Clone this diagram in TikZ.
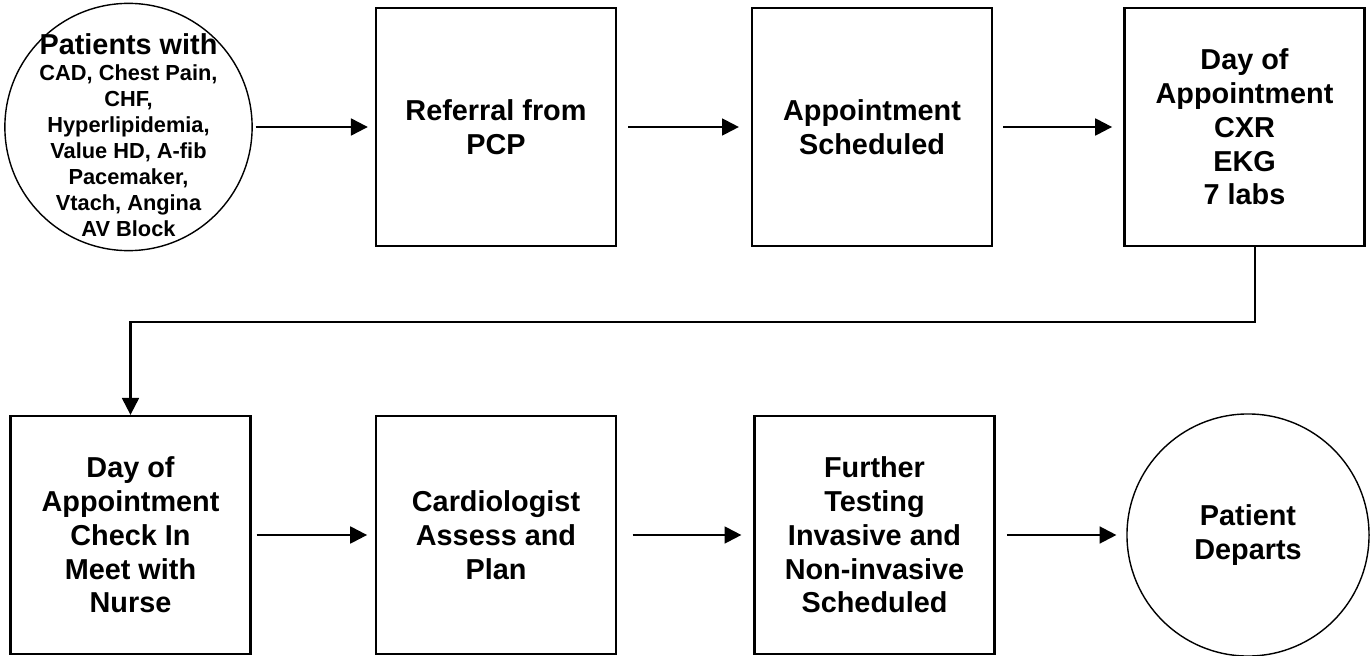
\documentclass[tikz,border=0pt]{standalone}
\usepackage{fontspec}
\setmainfont{Liberation Sans}
\usetikzlibrary{arrows.meta}

\tikzstyle{stage}=[draw,line width=1.6pt,rectangle,minimum width=6cm,minimum height=5.95cm,align=center,inner sep=2pt,font=\bfseries\fontsize{20.5}{24}\selectfont]
\tikzstyle{terminal}=[draw,line width=1pt,circle,inner sep=0pt,align=center,font=\bfseries\fontsize{20.5}{24}\selectfont]
\tikzstyle{small}=[align=center,inner sep=0pt,font=\bfseries\fontsize{15.5}{18.5}\selectfont]
\tikzstyle{flow}=[draw,line width=1.6pt,-{Triangle[length=12pt,width=12pt]}]

\begin{document}
\begin{tikzpicture}[x=0.025cm,y=-0.025cm]
      \useasboundingbox (0,0) rectangle (1372,656);
      %nodes
      \node[terminal, minimum size=6.18cm] (pats) at (128.5,127) {};
      \node[small] (patstext) at (128.5,135) {{\fontsize{20.5}{24}\selectfont Patients with}\\CAD, Chest Pain,\\CHF,\\Hyperlipidemia,\\Value HD, A-fib\\Pacemaker,\\Vtach, Angina\\AV Block};
      \foreach \nodename/\x/\y/\txt in {
        ref/496/127/{Referral from\\PCP},
        sched/872/127/{Appointment\\Scheduled},
        dayone/1244.5/127/{Day of\\Appointment\\CXR\\EKG\\7 labs},
        checkin/130.5/535/{Day of\\Appointment\\Check In\\Meet with\\Nurse},
        cardio/496/535/{Cardiologist\\Assess and\\Plan},
        further/874.5/535/{Further\\Testing\\Invasive and\\Non-invasive\\Scheduled}}
      {
        \node[stage] (\nodename) at (\x,\y) {\txt};
      };
      \node[terminal, minimum size=6.05cm] (departs) at (1248,535) {Patient\\Departs};
      %edges
      \foreach \startnode/\endnode/\gapa/\gapb in {
        pats/ref/2/5, ref/sched/8/8.5, sched/dayone/7/8,
        checkin/cardio/3.5/5.5, cardio/further/11/8.5, further/departs/8/7}
      {
        \draw[flow, shorten <=\gapa pt, shorten >=\gapb pt] (\startnode) -- (\endnode);
      };
      \draw[flow] ([xshift=0.26cm]dayone.south) -- ++(0,75) -| (checkin.north);
\end{tikzpicture}
\end{document}
